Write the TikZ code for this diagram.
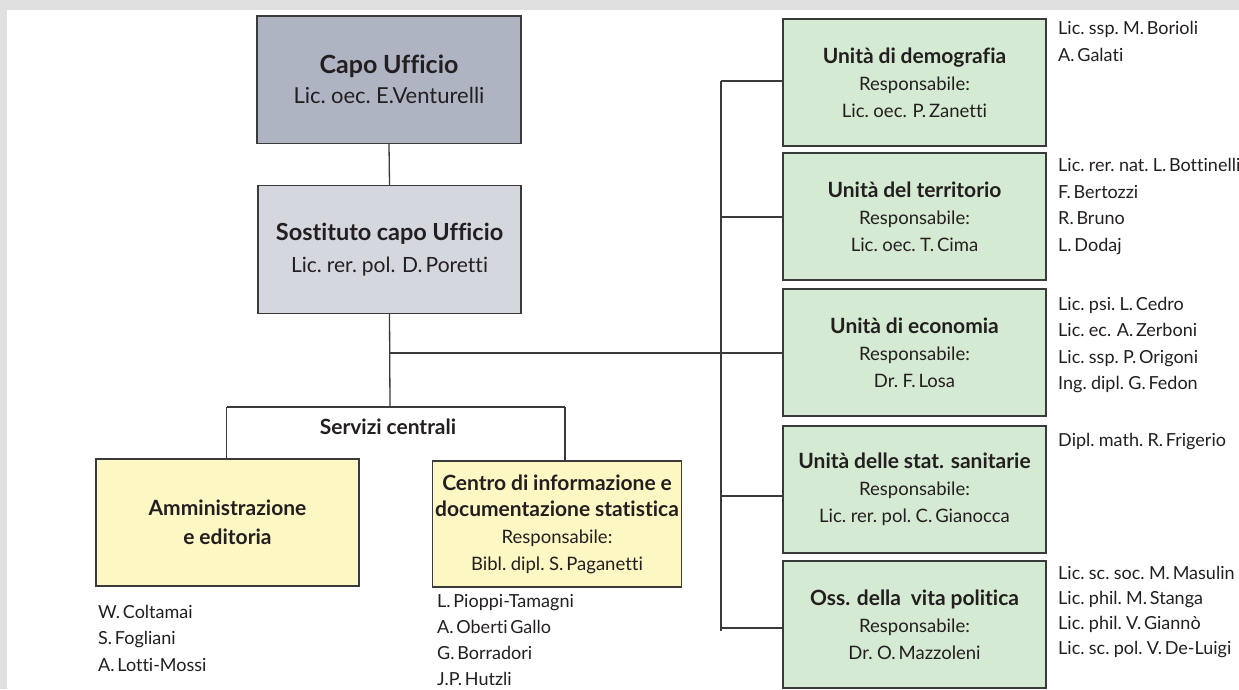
\documentclass[tikz,border=0pt]{standalone}
\usepackage{fontspec}
\setmainfont{Lato}[Ligatures=NoCommon, UprightFeatures={WordSpace=0.6}, BoldFeatures={WordSpace=0.95}]
\definecolor{frame}{HTML}{E1E0E1}
\definecolor{capofill}{HTML}{AEB4C2}
\definecolor{sostfill}{HTML}{D5D7DF}
\definecolor{yelfill}{HTML}{FDF7C3}
\definecolor{grnfill}{HTML}{D5EAD2}
\definecolor{ink}{HTML}{231F20}
\definecolor{edge}{HTML}{3A3A3A}
\tikzset{
  box/.style={draw=edge, line width=1.2pt, rectangle, inner sep=0pt, align=center, text=ink},
  conn/.style={draw=edge, line width=1.3pt},
  names/.style={anchor=west, inner sep=0pt, align=left, text=ink, font=\fontsize{18}{26.5}\selectfont},
}
\newcommand{\hd}[1]{{\fontsize{21}{27}\selectfont\bfseries #1}}
\begin{document}
\begin{tikzpicture}[x=1pt,y=-1pt]
\useasboundingbox (0,0) rectangle (1239,689);
\fill[frame] (0,0) rectangle (1239,689);
\fill[white] (7,10) rectangle (1239,689);

% top hierarchy
\node[box, fill=capofill, minimum width=264pt, minimum height=127.5pt,
      font=\fontsize{22}{30}\selectfont] (capo) at (389,79.75)
  {{\fontsize{25}{30}\selectfont\bfseries Capo Ufficio}\\Lic. oec. E.Venturelli};
\node[box, fill=sostfill, minimum width=263pt, minimum height=127.5pt,
      font=\fontsize{21}{32}\selectfont] (sost) at (389.5,249.5)
  {{\fontsize{23.5}{32}\selectfont\bfseries Sostituto capo Ufficio}\\Lic. rer. pol.\ \ D. Poretti};

% central services
\node[box, fill=yelfill, minimum width=263pt, minimum height=127pt,
      font=\fontsize{21}{29}\selectfont\bfseries] (ammin) at (227.5,522.5)
  {Amministrazione\\e editoria};
\node[box, fill=yelfill, minimum width=248.5pt, minimum height=126pt,
      font=\fontsize{18.5}{26.7}\selectfont] (centro) at (557,524)
  {\hd{Centro di informazione e}\\\hd{documentazione statistica}\\Responsabile:\\Bibl. dipl. S. Paganetti};
\node[inner sep=0pt, text=ink, font=\fontsize{21}{27}\selectfont\bfseries] (serv) at (388,427) {Servizi centrali};

% units
\tikzset{unit/.style={box, fill=grnfill, minimum width=263pt, minimum height=127pt,
      font=\fontsize{18.5}{27}\selectfont}}
\node[unit] (demo) at (914.5,82.5) {\hd{Unità di demografia}\\Responsabile:\\Lic. oec.\ \ P.\ Zanetti};
\node[unit] (terr) at (914.5,216.5) {\hd{Unità del territorio}\\Responsabile:\\Lic. oec. T. Cima};
\node[unit] (econ) at (914.5,352.5) {\hd{Unità di economia}\\Responsabile:\\Dr. F. Losa};
\node[unit] (sani) at (914.5,489.5) {\hd{Unità delle stat. sanitarie}\\Responsabile:\\Lic. rer. pol. C. Gianocca};
\node[unit] (oss) at (914.5,624.5) {\hd{Oss. della\ \ vita politica}\\Responsabile:\\Dr. O. Mazzoleni};

% connectors
\coordinate (j1) at (390,353);
\coordinate (j2) at (390,407);
\coordinate (sa) at (226.7,407);
\coordinate (sc) at (565,407);
\coordinate (ttop) at (721,81);
\coordinate (b2) at (721,217);
\coordinate (b4) at (721,496);
\coordinate (b5) at (721,628);
\coordinate (tbot) at (721,631);

\draw[conn] (capo.south) -- (sost.north);
\draw[conn] (sost.south) -- (j2);
\draw[conn] (sa) -- (sc);
\draw[conn] (sa) -- (sa |- ammin.north);
\draw[conn] (sc) -- (sc |- centro.north);
\draw[conn] (j1) -- (j1 -| econ.west);
\draw[conn] (ttop) -- (tbot);
\draw[conn] (ttop) -- (ttop -| demo.west);
\draw[conn] (b2) -- (b2 -| terr.west);
\draw[conn] (b4) -- (b4 -| sani.west);
\draw[conn] (b5) -- (b5 -| oss.west);

% staff lists
\node[names] (n-demo) at (1058,41.5) {Lic. ssp. M. Borioli\\A. Galati};
\node[names] (n-terr) at (1058,206.5) {Lic. rer. nat. L. Bottinelli\\F. Bertozzi\\R. Bruno\\L. Dodaj};
\node[names] (n-econ) at (1058,345) {Lic. psi. L. Cedro\\Lic. ec.\ \ A. Zerboni\\Lic. ssp. P. Origoni\\Ing. dipl. G. Fedon};
\node[names] (n-sani) at (1058,442) {Dipl. math. R. Frigerio};
\node[names, font=\fontsize{18}{25}\selectfont] (n-oss) at (1058,612.5) {Lic. sc. soc. M. Masulin\\Lic. phil. M. Stanga\\Lic. phil. V. Giannò\\Lic. sc. pol. V. De-Luigi};
\node[names] (n-ammin) at (98,638) {W. Coltamai\\S. Fogliani\\A. Lotti-Mossi};
\node[names, font=\fontsize{18}{26}\selectfont] (n-centro) at (437,639.5) {L. Pioppi-Tamagni\\A. Oberti Gallo\\G. Borradori\\J.P. Hutzli};
\end{tikzpicture}
\end{document}
